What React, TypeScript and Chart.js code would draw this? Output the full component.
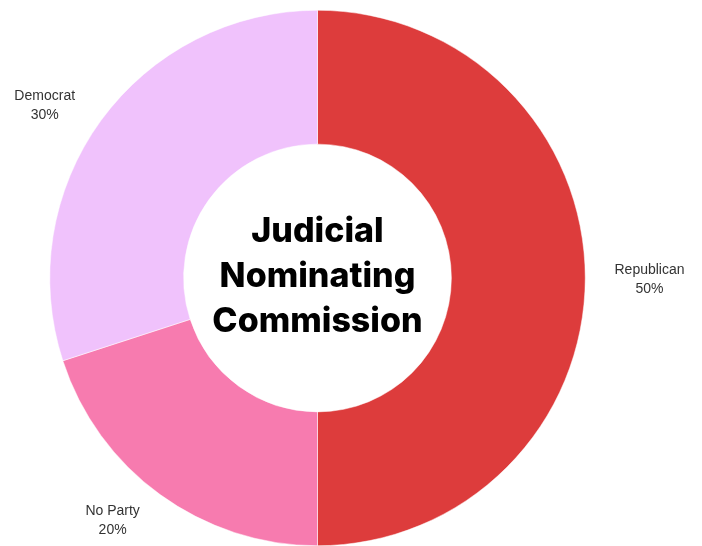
import React, { useEffect, useRef } from "react";
import { Chart, registerables } from "chart.js";

Chart.register(...registerables);

const categories = ["Republican", "No Party", "Democrat"];
const values = [50, 20, 30];
const colors = ["#DD3C3C", "#F77BAF", "#F0C2FC"];
const centerLines = ["Judicial", "Nominating", "Commission"];

// label placement tweaks (radius factor, angle shift in degrees) per slice
const labelRadius = [1.24, 1.183, 1.208];
const labelAngleShift = [0, 4.3, -3.5];

const labelPlugin = {
  id: "outerLabels",
  afterDatasetsDraw(chart: any) {
    const ctx = chart.ctx;
    const meta = chart.getDatasetMeta(0);
    const total = values.reduce((a, b) => a + b, 0);
    ctx.save();
    ctx.fillStyle = "#333333";
    ctx.font = "14px 'Liberation Sans', Arial, sans-serif";
    ctx.textAlign = "center";
    ctx.textBaseline = "middle";
    meta.data.forEach((arc: any, i: number) => {
      const mid = (arc.startAngle + arc.endAngle) / 2 + (labelAngleShift[i] * Math.PI) / 180;
      const r = arc.outerRadius * labelRadius[i];
      const x = arc.x + Math.cos(mid) * r;
      const y = arc.y + Math.sin(mid) * r;
      ctx.fillText(categories[i], x, y - 8);
      ctx.fillText(Math.round((values[i] / total) * 100) + "%", x, y + 11);
    });
    const a0 = meta.data[0];
    ctx.fillStyle = "#000000";
    ctx.font = "800 34px Inter, 'Open Sans', sans-serif";
    ctx.textBaseline = "alphabetic";
    const lh = 45;
    const base = a0.y - 36;
    centerLines.forEach((t, i) => ctx.fillText(t, a0.x, base + i * lh));
    ctx.restore();
  },
};

export default function App() {
  const ref = useRef<HTMLCanvasElement>(null);
  useEffect(() => {
    document.body.style.margin = "0";
    const chart = new Chart(ref.current!, {
      type: "doughnut",
      data: {
        labels: categories,
        datasets: [
          {
            data: values,
            backgroundColor: colors,
            borderColor: "#ffffff",
            borderWidth: 0.5,
          },
        ],
      },
      options: {
        responsive: false,
        animation: false,
        cutout: "50%",
        layout: { padding: { left: 0, right: 67, top: 10, bottom: 0 } },
        plugins: { legend: { display: false }, tooltip: { enabled: false } },
      },
      plugins: [labelPlugin],
    });
    return () => chart.destroy();
  }, []);
  return (
    <div style={{ width: 702, height: 546, background: "#fff" }}>
      <canvas ref={ref} width={702} height={546} />
    </div>
  );
}
